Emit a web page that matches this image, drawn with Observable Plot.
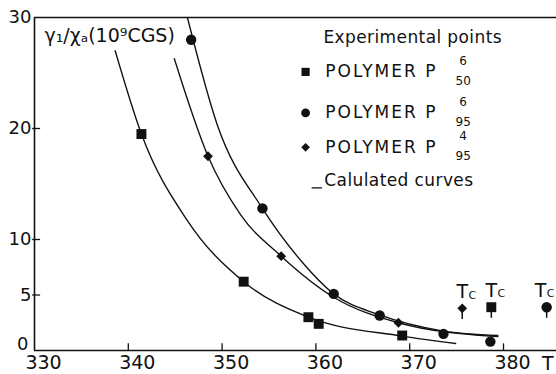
<!DOCTYPE html>
<html><head><meta charset="utf-8">
<script src="https://cdn.jsdelivr.net/npm/d3@7"></script>
<script src="https://cdn.jsdelivr.net/npm/@observablehq/plot@0.6"></script>
<style>body{margin:0;background:#fff}</style>
</head><body><div id="chart"></div>
<script>
// Axes
const xTicks = [330, 340, 350, 360, 370, 380];
const yTicks = [0, 5, 10, 20, 30];

// Experimental points (T in K, value in 10^9 CGS)
const p650T = [341.4, 352.3, 359.2, 360.3, 369.2];
const p650V = [19.5, 6.2, 3.0, 2.4, 1.35];
const p695T = [346.7, 354.3, 361.9, 366.8, 373.6, 378.6];
const p695V = [28.0, 12.8, 5.1, 3.15, 1.5, 0.8];
const p495T = [348.5, 356.3, 368.8];
const p495V = [17.5, 8.5, 2.5];

// Calculated curves
const c650T = [338.6, 341.4, 346.3, 352.3, 359.2, 369.2, 374.9];
const c650V = [27.0, 19.5, 11.7, 6.2, 3.0, 1.3, 0.63];
const c495T = [344.9, 348.5, 352.0, 356.3, 361.9, 368.8, 379.4];
const c495V = [26.3, 17.5, 12.2, 8.5, 4.8, 2.5, 1.25];
const c695T = [346.3, 349.5, 354.3, 358.5, 361.9, 366.8, 373.6, 379.4];
const c695V = [30.0, 20.3, 12.8, 8.0, 5.1, 3.2, 1.75, 1.35];

// Critical temperatures Tc
const tcT = [375.6, 378.7, 384.6];
const tcV = [3.8, 3.9, 3.9];

// Legend text
const legendTitle = "Experimental points";
const legendNames = ["POLYMER P", "POLYMER P", "POLYMER P"];
const legendSup = ["6", "6", "4"];
const legendSub = ["50", "95", "95"];
const curveLabel = "Calulated curves";
const yLabel = "γ\u2081/χ\u2090(10\u2079CGS)";

const ink = "#111";
// legend layout (data coords)
const lgX = 358.9, lgTextX = 361.0, lgSupX = 375.7;
const lgRowY = [25.1, 21.4, 18.3];
const tcDx = [0, 0, -6];

const curveOpts = {x: d => d[0], y: d => d[1], curve: "monotone-x", stroke: ink, strokeWidth: 1.35, clip: true};
const pairs = (a, b) => a.map((t, i) => [t, b[i]]);

const chart = Plot.plot({
  width: 556,
  height: 374,
  marginLeft: 34,
  marginRight: 0,
  marginTop: 17,
  marginBottom: 24,
  x: {domain: [330, 385.65]},
  y: {domain: [0, 30]},
  style: {fontFamily: "DejaVu Sans", background: "#fff", color: ink},
  marks: [
    // frame
    Plot.ruleY([0, 30], {stroke: ink, strokeWidth: 1.6}),
    Plot.ruleX([330], {stroke: ink, strokeWidth: 1.6}),
    // inward ticks
    Plot.ruleX(xTicks.filter(t => t > 330), {y1: 0, y2: 0.6, stroke: ink, strokeWidth: 1.3}),
    Plot.ruleY(yTicks.filter(t => t > 0 && t < 30), {x1: 329.8, x2: 330.65, stroke: ink, strokeWidth: 1.3}),
    Plot.axisX(xTicks, {tickSize: 0, tickPadding: 5, dx: 9, fontSize: 19, label: null}),
    Plot.axisY(yTicks.filter(t => t > 0), {tickSize: 0, tickPadding: 3, fontSize: 18, label: null}),
    Plot.axisY(yTicks.filter(t => t === 0), {tickSize: 0, tickPadding: 6, dy: -6, fontSize: 18, label: null}),
    Plot.text(["T"], {frameAnchor: "bottom-right", textAnchor: "end", lineAnchor: "top", dx: -3, dy: 6, fontSize: 19, fill: ink}),
    Plot.text([yLabel], {frameAnchor: "top-left", textAnchor: "start", lineAnchor: "top", dx: 10, dy: 11, fontSize: 19, fill: ink}),
    // curves
    Plot.line(pairs(c650T, c650V), curveOpts),
    Plot.line(pairs(c495T, c495V), curveOpts),
    Plot.line(pairs(c695T, c695V), curveOpts),
    // points
    Plot.dot(p650T, {x: d => d, y: (d, i) => p650V[i], symbol: "square", r: 5.6, fill: ink, stroke: "none"}),
    Plot.dot(p695T, {x: d => d, y: (d, i) => p695V[i], symbol: "circle", r: 5.2, fill: ink, stroke: "none"}),
    Plot.dot(p495T, {x: d => d, y: (d, i) => p495V[i], symbol: "diamond2", r: 4.4, fill: ink, stroke: "none"}),
    // Tc markers
    Plot.ruleX(tcT, {x: d => d, y1: (d, i) => tcV[i], y2: (d, i) => tcV[i] - 1.0, stroke: ink, strokeWidth: 1.5}),
    Plot.dot([tcT[0]], {x: d => d, y: tcV[0], symbol: "diamond2", r: 4.4, fill: ink, stroke: "none"}),
    Plot.dot([tcT[1]], {x: d => d, y: tcV[1], symbol: "square", r: 5.6, fill: ink, stroke: "none"}),
    Plot.dot([tcT[2]], {x: d => d, y: tcV[2], symbol: "circle", r: 5.2, fill: ink, stroke: "none"}),
    ...tcT.map((t, i) => Plot.text(["T"], {x: t, y: tcV[i] + 1.5, dx: tcDx[i], fontSize: 19, fill: ink})),
    ...tcT.map((t, i) => Plot.text(["C"], {x: t, y: tcV[i] + 1.2, dx: tcDx[i] + 10, fontSize: 11, fill: ink})),
    // legend
    Plot.text([legendTitle], {x: lgTextX - 0.2, y: 28.2, textAnchor: "start", fontSize: 17, fill: ink}),
    Plot.dot([0], {x: lgX, y: lgRowY[0], symbol: "square", r: 4.6, fill: ink, stroke: "none"}),
    Plot.dot([0], {x: lgX, y: lgRowY[1], symbol: "circle", r: 4.4, fill: ink, stroke: "none"}),
    Plot.dot([0], {x: lgX, y: lgRowY[2], symbol: "diamond2", r: 3.9, fill: ink, stroke: "none"}),
    Plot.text(legendNames, {x: lgTextX, y: (d, i) => lgRowY[i], textAnchor: "start", fontSize: 17, fill: ink}),
    Plot.text(legendSup, {x: lgSupX, y: (d, i) => lgRowY[i] + 1.0, fontSize: 12, fill: ink}),
    Plot.text(legendSub, {x: lgSupX, y: (d, i) => lgRowY[i] - 0.8, fontSize: 12, fill: ink}),
    Plot.ruleY([14.65], {x1: 359.6, x2: 360.7, stroke: ink, strokeWidth: 1.3}),
    Plot.text([curveLabel], {x: lgTextX - 0.1, y: 15.3, textAnchor: "start", fontSize: 17, fill: ink})
  ]
});
// widen the hand-lettered legend text like the original
d3.select(chart).selectAll("text").each(function() {
  const s = this.textContent;
  if (s === "POLYMER P") this.setAttribute("letter-spacing", "2px");
  else if (s === legendTitle) this.setAttribute("letter-spacing", "0.4px");
  else if (s === curveLabel) this.setAttribute("letter-spacing", "0.4px");
});
document.getElementById("chart").appendChild(chart);
</script></body></html>
